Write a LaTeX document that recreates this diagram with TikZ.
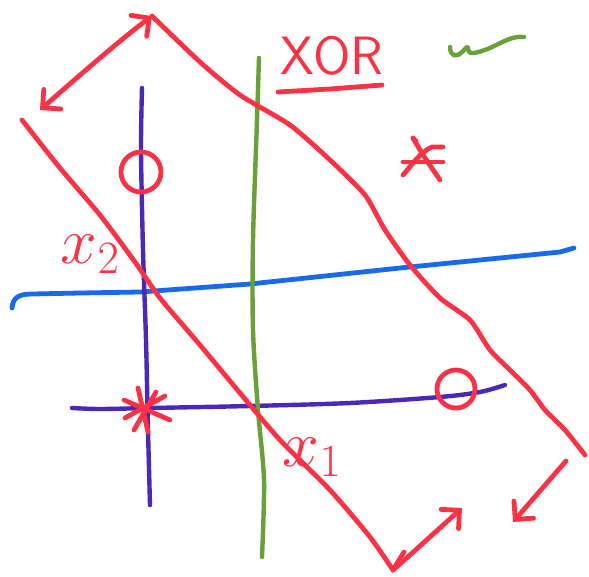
\RequirePackage{fix-cm}
\documentclass[tikz,border=0pt]{standalone}
\usetikzlibrary{arrows.meta}
\definecolor{penred}{RGB}{250,50,70}
\definecolor{penpurple}{RGB}{75,40,185}
\definecolor{penblue}{RGB}{25,105,235}
\definecolor{pengreen}{RGB}{105,160,55}
\tikzset{
  redink/.style={draw=penred,line width=4.8pt,line cap=round,line join=round},
  purpleink/.style={draw=penpurple,line width=4.4pt,line cap=round,line join=round},
  blueink/.style={draw=penblue,line width=4.8pt,line cap=round,line join=round},
  greenink/.style={draw=pengreen,line width=4.4pt,line cap=round,line join=round},
  handtip/.style={-{Straight Barb[length=13pt,width=26pt,line cap=round]}},
  handtips/.style={{Straight Barb[length=13pt,width=26pt,line cap=round]}-{Straight Barb[length=13pt,width=26pt,line cap=round]}},
  ring/.style={circle,draw=penred,line width=4.8pt,inner sep=0pt},
  label/.style={text=penred,inner sep=0pt}
}
\begin{document}
\begin{tikzpicture}[x=1pt,y=-1pt]
\useasboundingbox (0,0) rectangle (589,576);
% blue line
\draw[blueink] (12,308) .. controls (13,298) and (18,294) .. (32,294) -- (80,293) -- (140,292) -- (250,284) -- (400,268) -- (560,252) -- (574,248);
% purple axes
\draw[purpleink] plot[smooth,tension=0.5] coordinates {(142,88) (141,150) (143,250) (146,340) (148,430) (150,505)};
\draw[purpleink] plot[smooth,tension=0.5] coordinates {(72,408) (100,409) (150,408) (250,406) (350,403) (440,397) (480,392) (505,385)};
% green line
\draw[greenink] plot[smooth,tension=0.5] coordinates {(259,58) (257,120) (253,240) (253,330) (258,410) (264,480) (262,557)};
% green squiggle
\draw[greenink] (450,47) .. controls (450,56) and (456,58) .. (462,52) .. controls (466,48) and (468,45) .. (468,49) .. controls (468,55) and (475,54) .. (490,48) .. controls (505,41) and (512,36) .. (524,37);
% red diagonal lines
\coordinate (lt) at (22,120);
\coordinate (lb) at (393,570);
\coordinate (rt) at (152,16);
\coordinate (rb) at (585,455);
\draw[redink] plot[smooth,tension=0.4] coordinates {(lt) (60,168) (100,215) (135,262) (160,298) (200,345) (240,393) (280,440) (330,490) (370,537) (lb)};
\draw[redink] plot[smooth,tension=0.4] coordinates {(rt) (200,62) (240,95) (290,125) (330,160) (365,195) (385,230) (410,265) (440,298) (470,320) (490,350) (510,370) (530,390) (545,410) (565,430) (rb)};
% arrows
\coordinate (a1s) at (40,110);
\coordinate (a2e) at (462,508);
\coordinate (a3s) at (566,461);
\coordinate (a3e) at (513,522);
\draw[redink,handtips] (a1s) .. controls (80,75) and (120,40) .. (rt);
\draw[redink,handtip] (lb) -- (410,555) -- (a2e);
\draw[redink] (lb) -- (404,552);
\draw[redink,handtip] (a3s) -- (a3e);
% rings
\node[ring,minimum width=40pt,minimum height=36pt] (c1) at (141,172) {};
\node[ring,minimum width=38pt,minimum height=32pt] (c2) at (456,389) {};
% asterisks
\draw[redink] (138,388) -- (148,432);
\draw[redink] (124,400) -- (170,420);
\draw[redink] (125,418) -- (165,396);
\draw[redink] (134,430) -- (156,392);
\draw[redink] (416,141) -- (413,138) -- (423,155) -- (440,180);
\draw[redink] (403,162) -- (443,162);
\draw[redink] (403,175) .. controls (412,165) and (420,152) .. (432,147) -- (443,147);
% labels
\node[label,font=\sffamily\fontsize{54}{54}\selectfont] (xor) at (332,56) {XOR};
\draw[redink] (278,92) -- (330,89) -- (382,85);
\node[label,font=\fontsize{66}{66}\selectfont] (x2) at (90,254) {$x_2$};
\node[label,font=\fontsize{66}{66}\selectfont] (x1) at (312,457) {$x_1$};
\end{tikzpicture}
\end{document}
